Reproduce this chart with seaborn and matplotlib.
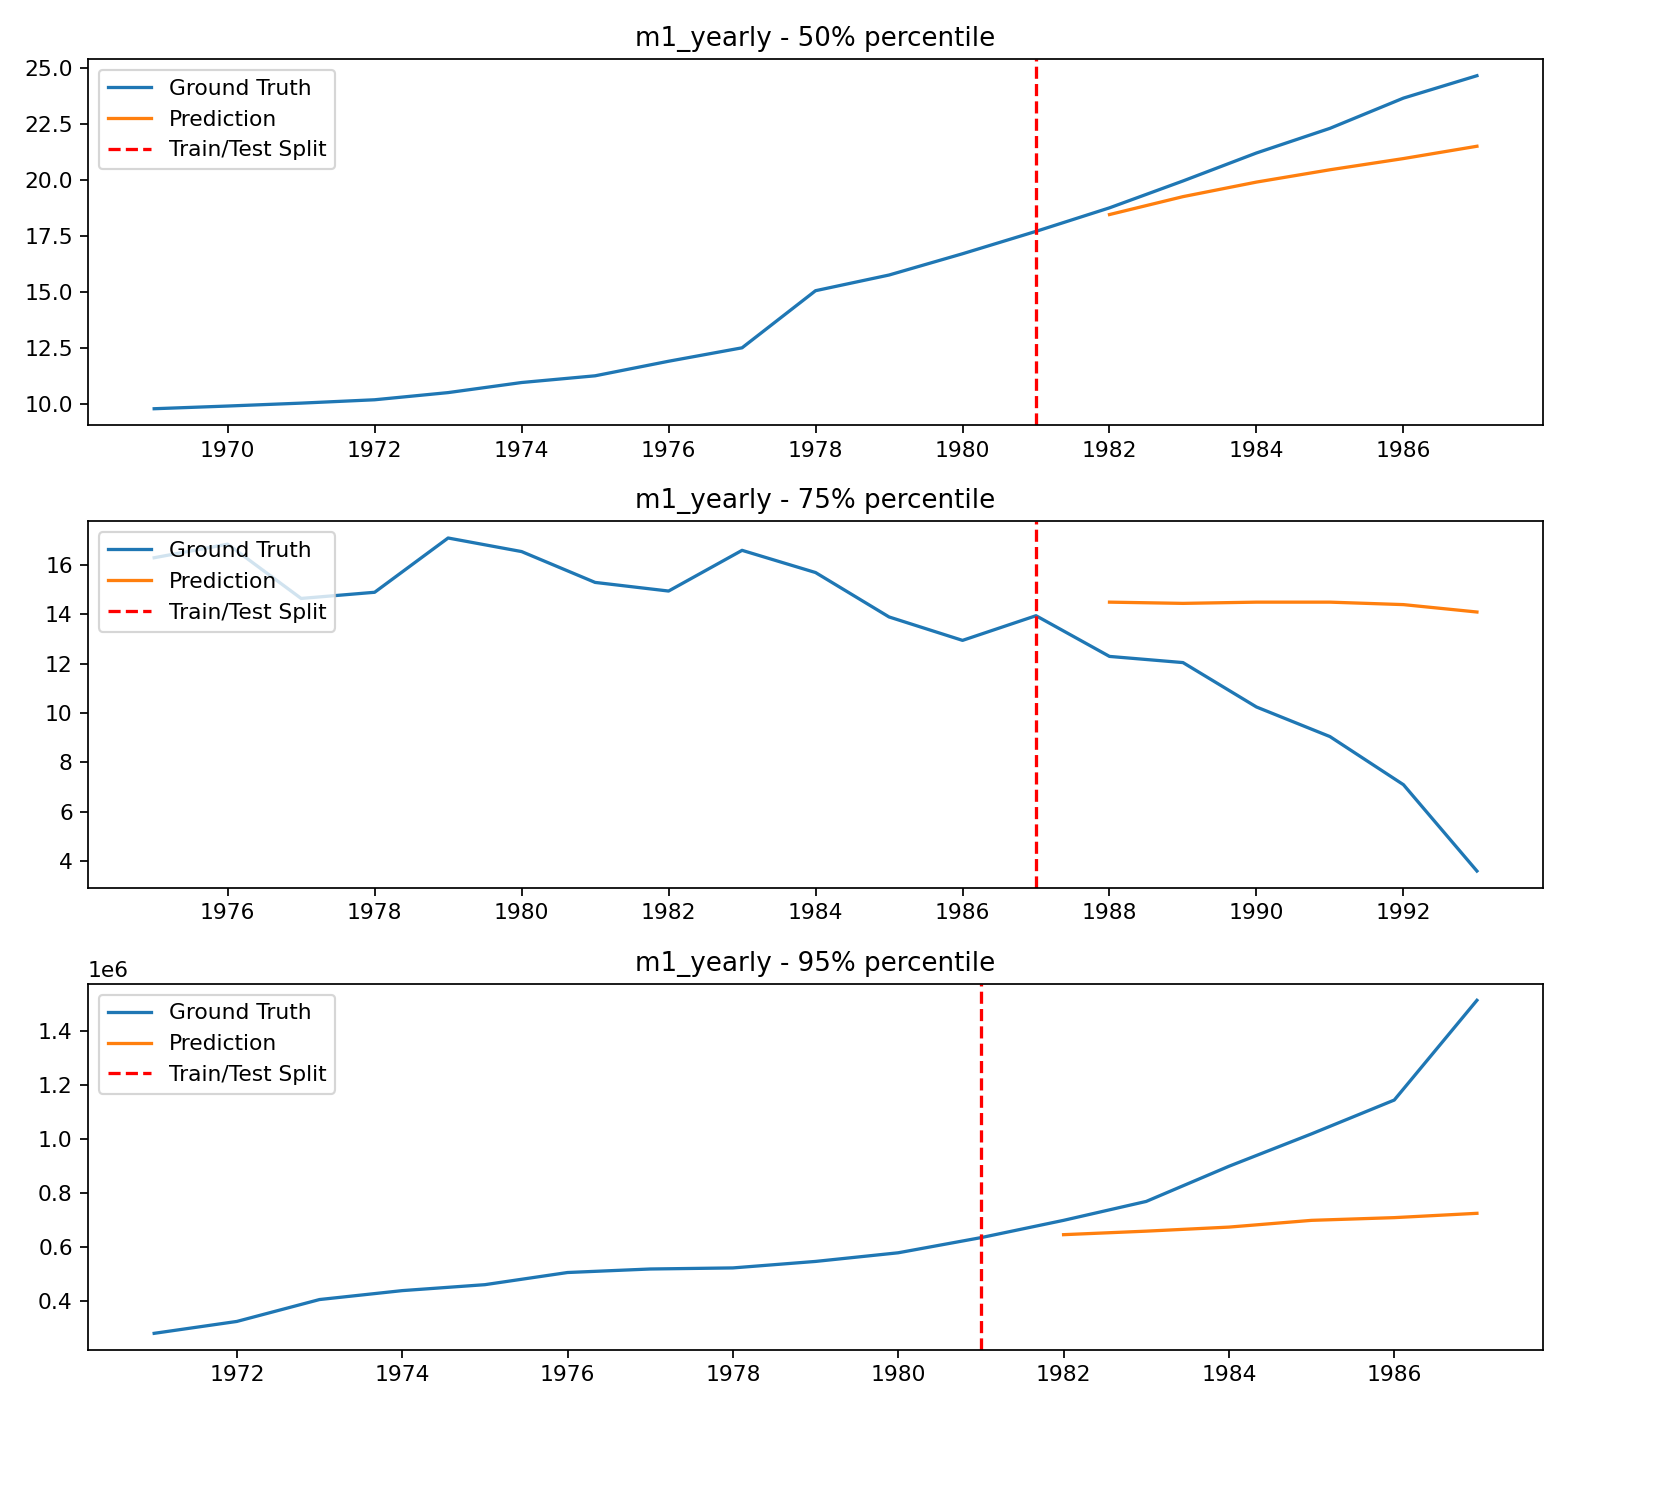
import numpy as np
import pandas as pd
import matplotlib
matplotlib.use('Agg')
import matplotlib.pyplot as plt
from matplotlib.ticker import MultipleLocator, FormatStrFormatter
import seaborn as sns

# ── data ────────────────────────────────────────────────────
years_50 = list(range(1969, 1988))
truth_50 = [9.78, 9.90, 10.03, 10.18, 10.50, 10.95, 11.25, 11.90, 12.50, 15.05,
            15.75, 16.70, 17.70, 18.75, 19.95, 21.20, 22.30, 23.65, 24.65]
pred_years_50 = list(range(1982, 1988))
pred_50 = [18.45, 19.25, 19.90, 20.45, 20.95, 21.50]
split_50 = 1981

years_75 = list(range(1975, 1994))
truth_75 = [16.30, 16.85, 14.65, 14.90, 17.10, 16.55, 15.30, 14.95, 16.60, 15.70,
            13.90, 12.95, 13.95, 12.30, 12.05, 10.25, 9.05, 7.10, 3.60]
pred_years_75 = list(range(1988, 1994))
pred_75 = [14.50, 14.45, 14.50, 14.50, 14.40, 14.10]
split_75 = 1987

years_95 = list(range(1971, 1988))
truth_95 = [0.282, 0.326, 0.407, 0.440, 0.462, 0.507, 0.520, 0.524, 0.548, 0.580,
            0.636, 0.700, 0.770, 0.900, 1.020, 1.145, 1.514]
pred_years_95 = list(range(1982, 1988))
pred_95 = [0.647, 0.660, 0.675, 0.700, 0.710, 0.726]
split_95 = 1981

# y tick step per panel (in data units)
panels = [
    ('50%', years_50, truth_50, pred_years_50, pred_50, split_50, 1, 2.5),
    ('75%', years_75, truth_75, pred_years_75, pred_75, split_75, 1, 2),
    ('95%', years_95, truth_95, pred_years_95, pred_95, split_95, 1e6, 0.2e6),
]

# ── plot ────────────────────────────────────────────────────
DPI = 157
fig, axes = plt.subplots(3, 1, figsize=(1661 / DPI, 1495 / DPI), dpi=DPI)
fig.subplots_adjust(left=0.053, right=0.929, top=0.9605, bottom=0.097, hspace=0.262)

for ax, (pct, yrs, truth, pyrs, pred, split, scale, ystep) in zip(axes, panels):
    sns.lineplot(x=yrs, y=np.array(truth) * scale, ax=ax,
                 color='#1f77b4', label='Ground Truth')
    sns.lineplot(x=pyrs, y=np.array(pred) * scale, ax=ax,
                 color='#ff7f0e', label='Prediction')
    ax.axvline(split, color='red', linestyle='--', label='Train/Test Split')
    ax.set_title(f'm1_yearly - {pct} percentile')
    ax.xaxis.set_major_locator(MultipleLocator(2))
    ax.xaxis.set_major_formatter(FormatStrFormatter('%d'))
    ax.yaxis.set_major_locator(MultipleLocator(ystep))
    ax.legend(loc='upper left')

plt.savefig('out.png', dpi=DPI)
